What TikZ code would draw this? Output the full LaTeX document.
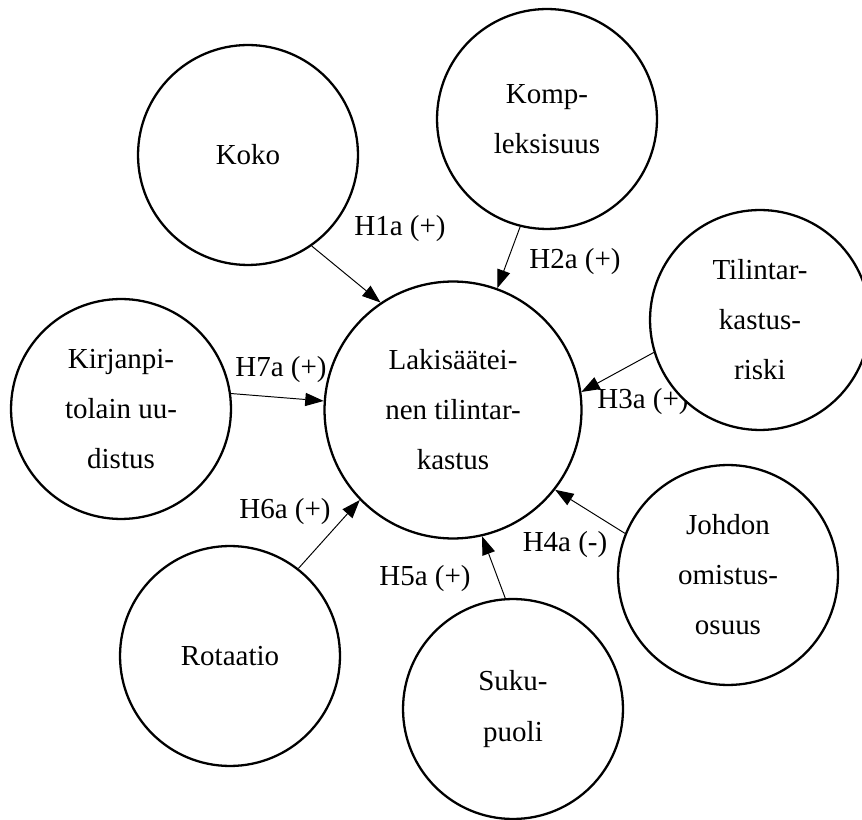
\documentclass[tikz,border=0pt]{standalone}
\usepackage{fontspec}
\setmainfont{Liberation Serif}
\usepackage{tikz}
\usetikzlibrary{arrows.meta}

\tikzset{
	factor/.style={circle, draw=black, line width=1.3pt, fill=white, minimum size=4.4cm,
		inner sep=0pt, align=center},
	hyp/.style={-{Triangle[length=10.5pt, width=7.5pt]}, line width=0.55pt},
	hyplabel/.style={inner sep=0pt}
}

\begin{document}
\begin{tikzpicture}[x=0.02cm, y=-0.02cm, font=\fontsize{16.5}{28.5}\selectfont]

	\useasboundingbox (0,0) rectangle (862,820);

	% hypothesis labels
	\node[hyplabel] (l1) at (400,229) {H1a (+)};
	\node[hyplabel] (l2) at (575,262) {H2a (+)};
	\node[hyplabel] (l3) at (643,402) {H3a (+)};
	\node[hyplabel] (l4) at (565,545) {H4a (-)};
	\node[hyplabel] (l5) at (425,579) {H5a (+)};
	\node[hyplabel] (l6) at (285,512) {H6a (+)};
	\node[hyplabel] (l7) at (281,370) {H7a (+)};

	% factors
	\node[factor, minimum size=5.14cm] (lak) at (453,410) {Lakisäätei-\\nen tilintar-\\kastus};
	\node[factor] (koko) at (248,155) {Koko};
	\node[factor] (komp) at (547,119) {Komp-\\leksisuus};
	\node[factor] (riski) at (760,320) {Tilintar-\\kastus-\\riski};
	\node[factor] (omist) at (728,575) {Johdon\\omistus-\\osuus};
	\node[factor] (suku) at (513,709) {Suku-\\puoli};
	\node[factor] (rot) at (230,656) {Rotaatio};
	\node[factor] (kirj) at (121,409) {Kirjanpi-\\tolain uu-\\distus};

	\draw[hyp] (koko.305.8) -- (lak.124.8);
	\draw[hyp] (komp.256.5) -- (lak.70);
	\draw[hyp] (riski.197) -- (lak.8);
	\draw[hyp] (omist.158.8) -- (lak.322.4);
	\draw[hyp] (suku.94) -- (lak.283.3);
	\draw[hyp] (rot.52.3) -- (lak.224.4);
	\draw[hyp] (kirj.8.3) -- (lak.176.4);

\end{tikzpicture}
\end{document}
